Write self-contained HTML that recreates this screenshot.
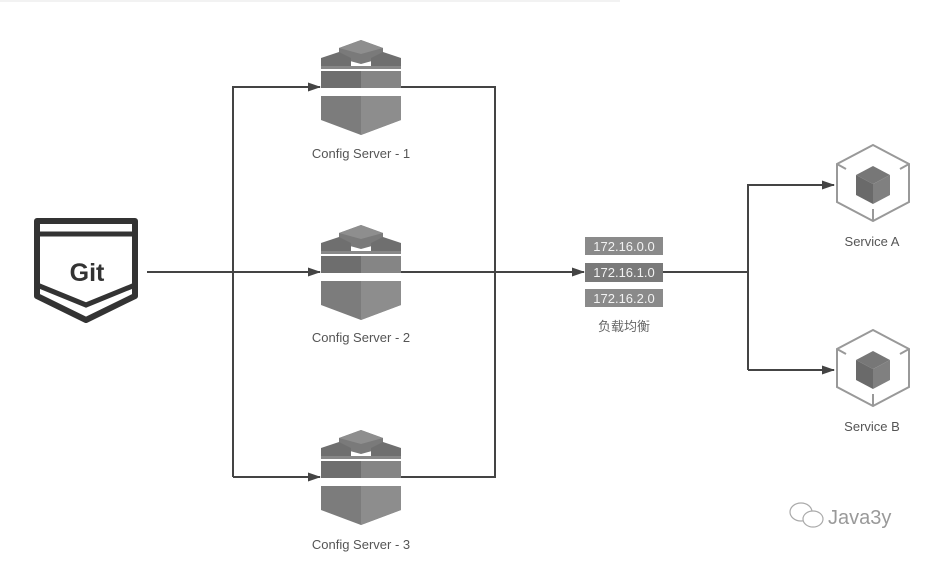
<!DOCTYPE html>
<html><head><meta charset="utf-8"><style>
html,body{margin:0;padding:0;background:#fff;}
body{width:936px;height:558px;overflow:hidden;}
</style></head><body>
<svg width="936" height="558" viewBox="0 0 936 558" xmlns="http://www.w3.org/2000/svg">
<defs>
<marker id="ar" markerWidth="13" markerHeight="9" refX="12" refY="4.5" orient="auto" markerUnits="userSpaceOnUse">
<path d="M0,0 L13,4.5 L0,9 Z" fill="#444"/>
</marker>
<g id="srv">
  <polygon points="-22,-40 0,-48 22,-40 22,-30 0,-24 -22,-30" fill="#7a7a7a"/>
  <polygon points="-22,-40 0,-48 22,-40 0,-34" fill="#8e8e8e"/>
  <polygon points="-40,-30 -22,-36 -10,-30 -10,-22 -40,-22" fill="#6f6f6f"/>
  <polygon points="10,-30 22,-36 40,-30 40,-22 10,-22" fill="#6f6f6f"/>
  <polygon points="-40,-22 40,-22 40,-19 -40,-19" fill="#888"/>
  <rect x="-40" y="-17" width="40" height="17" fill="#6e6e6e"/>
  <rect x="0" y="-17" width="40" height="17" fill="#858585"/>
  <polygon points="-40,8 40,8 40,32 0,47 -40,32" fill="#7c7c7c"/>
  <polygon points="0,8 40,8 40,32 0,47" fill="#8d8d8d"/>
</g>
<g id="svc">
  <polygon points="0,-38 36,-19 36,19 0,38 -36,19 -36,-19" fill="none" stroke="#999" stroke-width="2"/>
  <line x1="0" y1="26" x2="0" y2="38" stroke="#999" stroke-width="2"/>
  <line x1="-27" y1="-14" x2="-36" y2="-19" stroke="#999" stroke-width="2"/>
  <line x1="27" y1="-14" x2="36" y2="-19" stroke="#999" stroke-width="2"/>
  <polygon points="0,-17 17,-8 0,1 -17,-8" fill="#777"/>
  <polygon points="-17,-8 0,1 0,21 -17,12" fill="#6a6a6a"/>
  <polygon points="17,-8 0,1 0,21 17,12" fill="#808080"/>
</g>
</defs>

<line x1="0" y1="1" x2="620" y2="1" stroke="#e6e6e6" stroke-width="1"/>

<path d="M37,221 L135,221 L135,296 L86,320 L37,296 Z" fill="none" stroke="#333" stroke-width="6" stroke-linejoin="round"/>
<line x1="37" y1="234" x2="135" y2="234" stroke="#333" stroke-width="5"/>
<path d="M37,285 L86,305 L135,285" fill="none" stroke="#333" stroke-width="5"/>
<text x="87" y="281" font-family="Liberation Sans, sans-serif" font-weight="bold" font-size="25" fill="#333" text-anchor="middle">Git</text>

<g stroke="#444" stroke-width="2" fill="none">
<line x1="147" y1="272" x2="320" y2="272" marker-end="url(#ar)"/>
<polyline points="233,477 233,87 320,87" marker-end="url(#ar)"/>
<polyline points="233,477 320,477" marker-end="url(#ar)"/>
<polyline points="401,87 495,87 495,477 401,477"/>
<line x1="401" y1="272" x2="584" y2="272" marker-end="url(#ar)"/>
<line x1="663" y1="272" x2="748" y2="272"/>
<polyline points="748,370 748,185 834,185" marker-end="url(#ar)"/>
<polyline points="748,370 834,370" marker-end="url(#ar)"/>
</g>

<use href="#srv" x="361" y="88"/>
<use href="#srv" x="361" y="273"/>
<use href="#srv" x="361" y="478"/>
<g font-family="Liberation Sans, sans-serif" font-size="13" fill="#555" text-anchor="middle">
<text x="361" y="158">Config Server - 1</text>
<text x="361" y="342">Config Server - 2</text>
<text x="361" y="549">Config Server - 3</text>
<text x="872" y="246">Service A</text>
<text x="872" y="431">Service B</text>
</g>

<g font-family="Liberation Sans, sans-serif" font-size="13" fill="#f2f2f2" text-anchor="middle">
<rect x="585" y="237" width="78" height="18" fill="#8a8a8a"/>
<text x="624" y="251">172.16.0.0</text>
<rect x="585" y="263" width="78" height="19" fill="#7a7a7a"/>
<text x="624" y="277">172.16.1.0</text>
<rect x="585" y="289" width="78" height="18" fill="#8a8a8a"/>
<text x="624" y="303">172.16.2.0</text>
</g>
<text x="624" y="331" font-family="Liberation Sans, 'Noto Sans CJK SC', sans-serif" font-size="13" fill="#666" text-anchor="middle">负载均衡</text>

<use href="#svc" x="873" y="183"/>
<use href="#svc" x="873" y="368"/>

<g fill="none" stroke="#aaa" stroke-width="1.2">
<ellipse cx="801" cy="512" rx="11" ry="9"/>
<ellipse cx="813" cy="519" rx="10" ry="8" fill="#fff"/>
</g>
<text x="828" y="524" font-family="Liberation Sans, sans-serif" font-size="20" fill="#999">Java3y</text>
</svg>
</body></html>
